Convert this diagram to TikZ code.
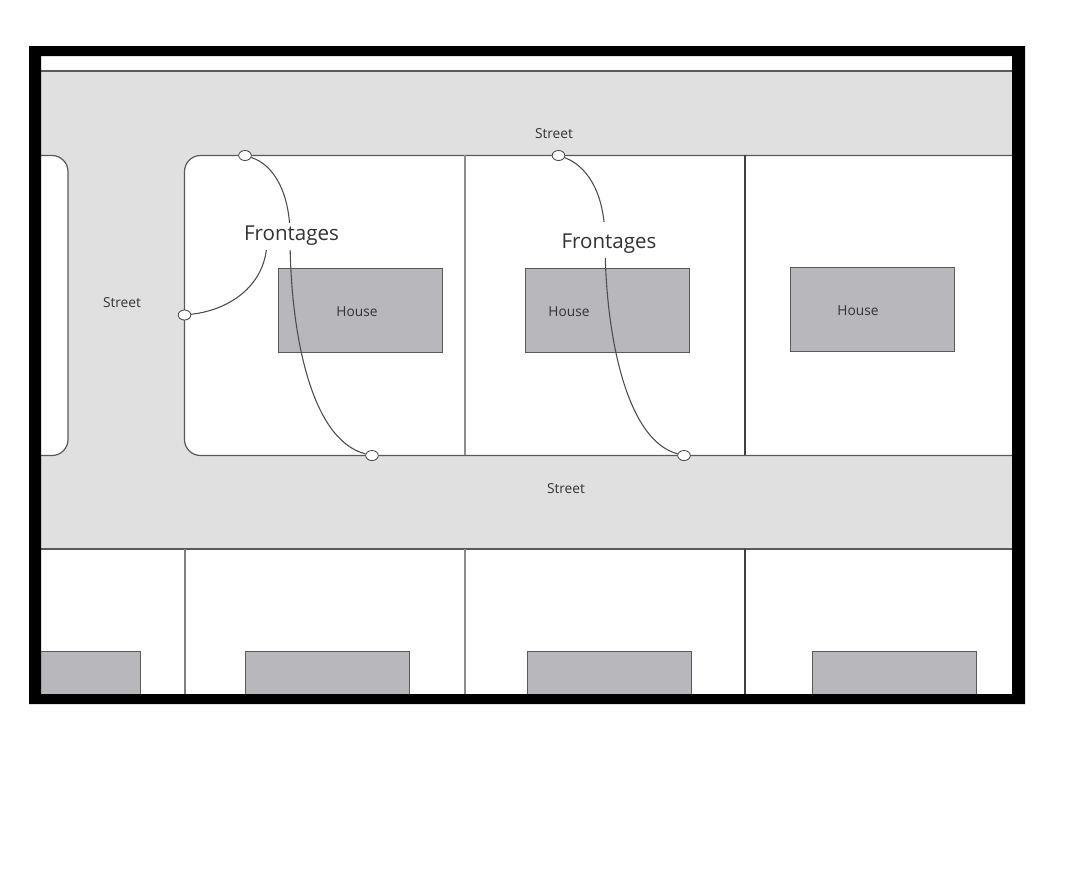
\documentclass[tikz,border=0pt]{standalone}
\usepackage{fontspec}
\usetikzlibrary{shapes.geometric}
\setmainfont{Open Sans}
\definecolor{roadgrey}{HTML}{E0E0E0}
\definecolor{housegrey}{HTML}{B8B8BC}
\definecolor{linegrey}{HTML}{5A5A5A}
\definecolor{textgrey}{HTML}{333333}
\tikzset{
  lotline/.style = {draw = linegrey, line width = .9pt},
  house/.style = {draw = linegrey, line width = .7pt, fill = housegrey, inner sep = 0pt, minimum width = 123pt, minimum height = 63pt},
  dot/.style = {draw = black!75, fill = white, ellipse, line width = .6pt, inner sep = 0pt, minimum width = 9.5pt, minimum height = 7.5pt},
  small/.style = {text = textgrey, font = \fontsize{10.3}{12}\selectfont},
  front/.style = {text = textgrey, fill = white, anchor = base, inner xsep = 1pt, inner ysep = 0pt, text depth = 7.5pt, font = \fontsize{15.4}{18}\selectfont},
  curve/.style = {draw = black!70, line width = .8pt}
}
\begin{document}
\begin{tikzpicture}[x = .75pt, y = -.75pt]
\useasboundingbox (0,0) rectangle (1066,879);
\fill[white] (0,0) rectangle (1066,879);
\fill[roadgrey] (41,71) rectangle (1012,549);
\draw[lotline] (41,71) -- (1012,71);
\draw[lotline] (41,549) -- (1012,549);
\draw[lotline, fill = white, rounded corners = 12pt] (30,155.5) -- (68,155.5) -- (68,455.5) -- (30,455.5);
\draw[lotline, fill = white, rounded corners = 12pt] (1018,155.5) -- (184.5,155.5) -- (184.5,455.5) -- (1018,455.5);
\draw[lotline, draw = black!45] (465,155) -- (465,455);
\draw[lotline, draw = black!75] (745,155) -- (745,455);
\fill[white] (41,550) rectangle (1012,694);
\draw[lotline, line width = 1.1pt, draw = black!50] (185,549) -- (185,694);
\draw[lotline, draw = black!45] (465,549) -- (465,694);
\draw[lotline, draw = black!75] (745,549) -- (745,694);

\node[house] (h1) at (360,310) {};
\node[house] (h2) at (607.5,310) {};
\node[house] (h3) at (872,309.5) {};
\node[house, minimum width = 82.5pt, minimum height = 36pt] (h4) at (85,675) {};
\node[house, minimum height = 36pt] (h5) at (327.5,675) {};
\node[house, minimum height = 35pt] (h6) at (609,675) {};
\node[house, minimum height = 35pt] (h7) at (894.5,675) {};

\node[small] (l1) at (357,312) {House};
\node[small] (l2) at (569,312) {House};
\node[small] (l3) at (858,311) {House};
\node[small] (s1) at (554,134) {Street};
\node[small] (s2) at (122,303) {Street};
\node[small] (s3) at (566,489) {Street};

\node[dot] (d1) at (245,155.5) {};
\node[dot] (d2) at (372,455.5) {};
\node[dot] (d3) at (184.5,315) {};
\node[dot] (d4) at (558.5,155.5) {};
\node[dot] (d5) at (684,455.5) {};

\coordinate (c1) at (290,235);
\coordinate (c2) at (267,240);
\coordinate (c3) at (605,240);
\draw[curve] (d1) .. controls (275,165) and (290,195) .. (c1) .. controls (290,330) and (310,440) .. (d2);
\draw[curve] (d3) .. controls (230,310) and (267,285) .. (c2);
\draw[curve] (d4) .. controls (585,165) and (605,190) .. (c3) .. controls (605,330) and (625,440) .. (d5);

\node[front, text height = 13pt] (f1) at (291.5,240) {Frontages};
\node[front, text height = 19.5pt] (f2) at (609,248) {Frontages};

\fill[black, even odd rule] (29,46) rectangle (1025,704) (41,56) rectangle (1012,694);
\end{tikzpicture}
\end{document}
